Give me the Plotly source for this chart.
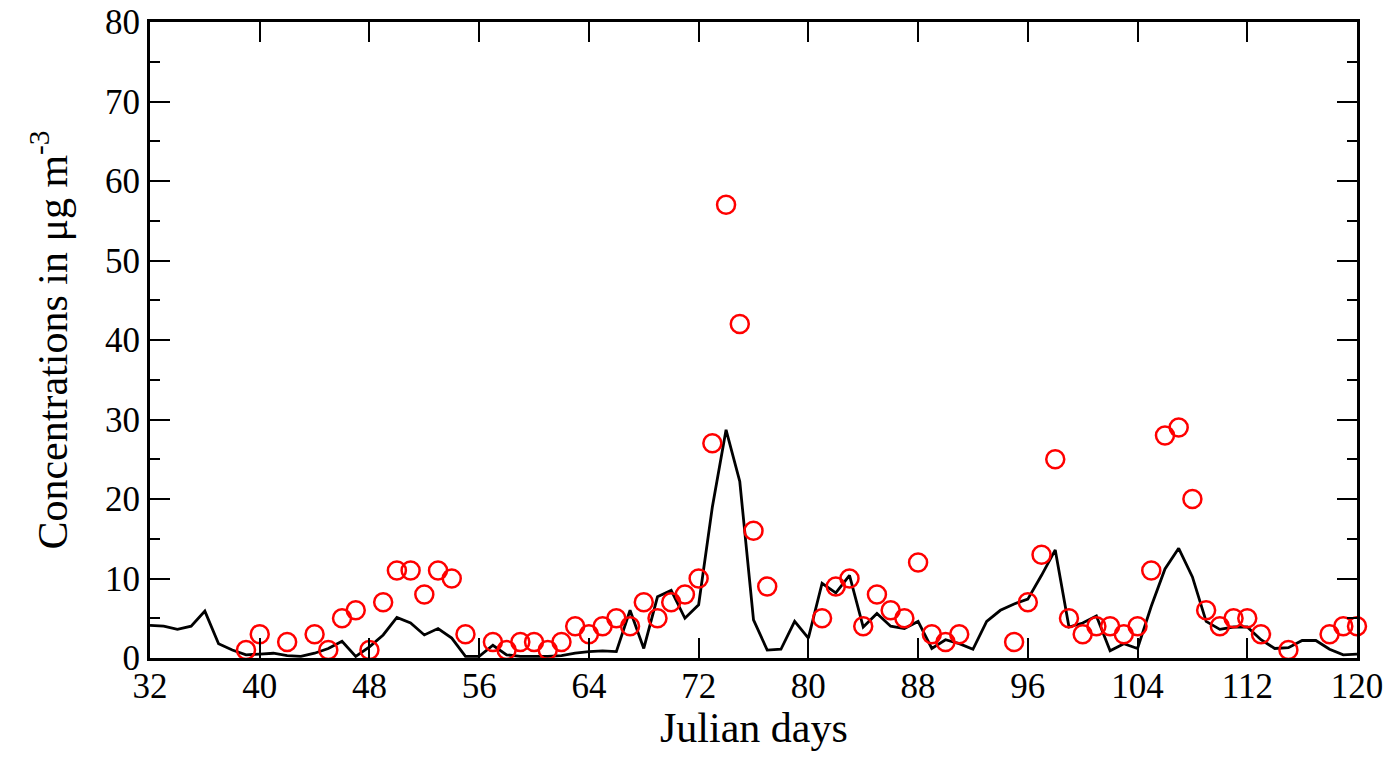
import plotly.graph_objects as go

# modelled concentration, one value per Julian day 32..120
model_days = list(range(32, 121))
model_conc = [
    4.1, 4.0, 3.6, 4.0, 5.9, 1.8, 1.0, 0.4, 0.5, 0.6,   # 32-41
    0.3, 0.2, 0.6, 1.2, 2.1, 0.2, 1.4, 2.9, 5.1, 4.4,   # 42-51
    2.9, 3.7, 2.5, 0.2, 0.2, 1.6, 0.4, 0.2, 0.2, 0.2,   # 52-61
    0.3, 0.6, 0.8, 0.9, 0.8, 6.0, 1.2, 7.7, 8.5, 5.0,   # 62-71
    6.7, 19.0, 28.7, 22.2, 4.8, 1.0, 1.1, 4.6, 2.5, 9.4,  # 72-81
    8.2, 10.4, 3.9, 5.6, 4.0, 3.7, 4.6, 1.2, 2.3, 1.8,  # 82-91
    1.1, 4.6, 6.0, 6.8, 7.4, 10.4, 13.6, 3.9, 4.4, 5.3,  # 92-101
    0.9, 1.8, 1.2, 6.5, 11.2, 13.8, 10.2, 4.6, 3.6, 3.9,  # 102-111
    3.9, 2.3, 1.2, 1.3, 2.2, 2.2, 1.1, 0.4, 0.5,        # 112-120
]

# observed concentrations
obs_days = [39, 40, 42, 44, 45, 46, 47, 48, 49, 50, 51, 52, 53, 54, 55,
            57, 58, 59, 60, 61, 62, 63, 64, 65, 66, 67, 68, 69, 70, 71,
            72, 73, 74, 75, 76, 77, 81, 82, 83, 84, 85, 86, 87, 88, 89,
            90, 91, 95, 96, 97, 98, 99, 100, 101, 102, 103, 104, 105, 106, 107,
            108, 109, 110, 111, 112, 113, 115, 118, 119, 120]
obs_conc = [1, 3, 2, 3, 1, 5, 6, 1, 7, 11, 11, 8, 11, 10, 3,
            2, 1, 2, 2, 1, 2, 4, 3, 4, 5, 4, 7, 5, 7, 8,
            10, 27, 57, 42, 16, 9, 5, 9, 10, 4, 8, 6, 5, 12, 3,
            2, 3, 2, 7, 13, 25, 5, 3, 4, 4, 3, 4, 11, 28, 29,
            20, 6, 4, 5, 5, 3, 1, 3, 4, 4]

x_ticks = list(range(32, 121, 8))

fig = go.Figure()

# model line
fig.add_trace(go.Scatter(
    x=model_days,
    y=model_conc,
    mode='lines',
    line=dict(color='black', width=2.8),
    cliponaxis=False,
    showlegend=False,
))

# observations
fig.add_trace(go.Scatter(
    x=obs_days,
    y=obs_conc,
    mode='markers',
    marker=dict(symbol='circle-open', size=18, color='#ff0000', line=dict(width=2.5)),
    cliponaxis=False,
    showlegend=False,
))

font_family = 'Liberation Serif, Times New Roman, serif'

# page body has an 8px margin, so the margins are trimmed by that
fig.update_layout(
    width=1394,
    height=773,
    margin=dict(l=142, r=45, t=14, b=123),
    plot_bgcolor='white',
    paper_bgcolor='white',
    font=dict(family=font_family, color='black'),
    xaxis=dict(
        range=[32, 120],
        tickvals=x_ticks,
        ticks='inside', ticklen=20, tickwidth=2, tickcolor='black',
        showline=True, linewidth=3, linecolor='black', mirror='ticks',
        showgrid=False, zeroline=False,
        tickfont=dict(size=35),
        ticklabelstandoff=-5,
        ticklabeloverflow='allow',
        automargin=False,
    ),
    yaxis=dict(
        range=[0, 80],
        dtick=10,
        ticks='inside', ticklen=20, tickwidth=2, tickcolor='black',
        minor=dict(dtick=5, ticks='inside', ticklen=10, tickwidth=2, tickcolor='black'),
        showline=True, linewidth=3, linecolor='black', mirror='ticks',
        showgrid=False, zeroline=False,
        tickfont=dict(size=35),
        ticklabeloverflow='allow',
        automargin=False,
        title=dict(text='Concentrations in \u03bcg m<sup>-3</sup>', font=dict(size=42), standoff=25),
    ),
    annotations=[dict(
        text='Julian days', xref='paper', yref='paper', x=0.5, y=-0.11,
        xanchor='center', yanchor='middle', showarrow=False,
        font=dict(size=42),
    )],
)

fig.write_html("out.html")
